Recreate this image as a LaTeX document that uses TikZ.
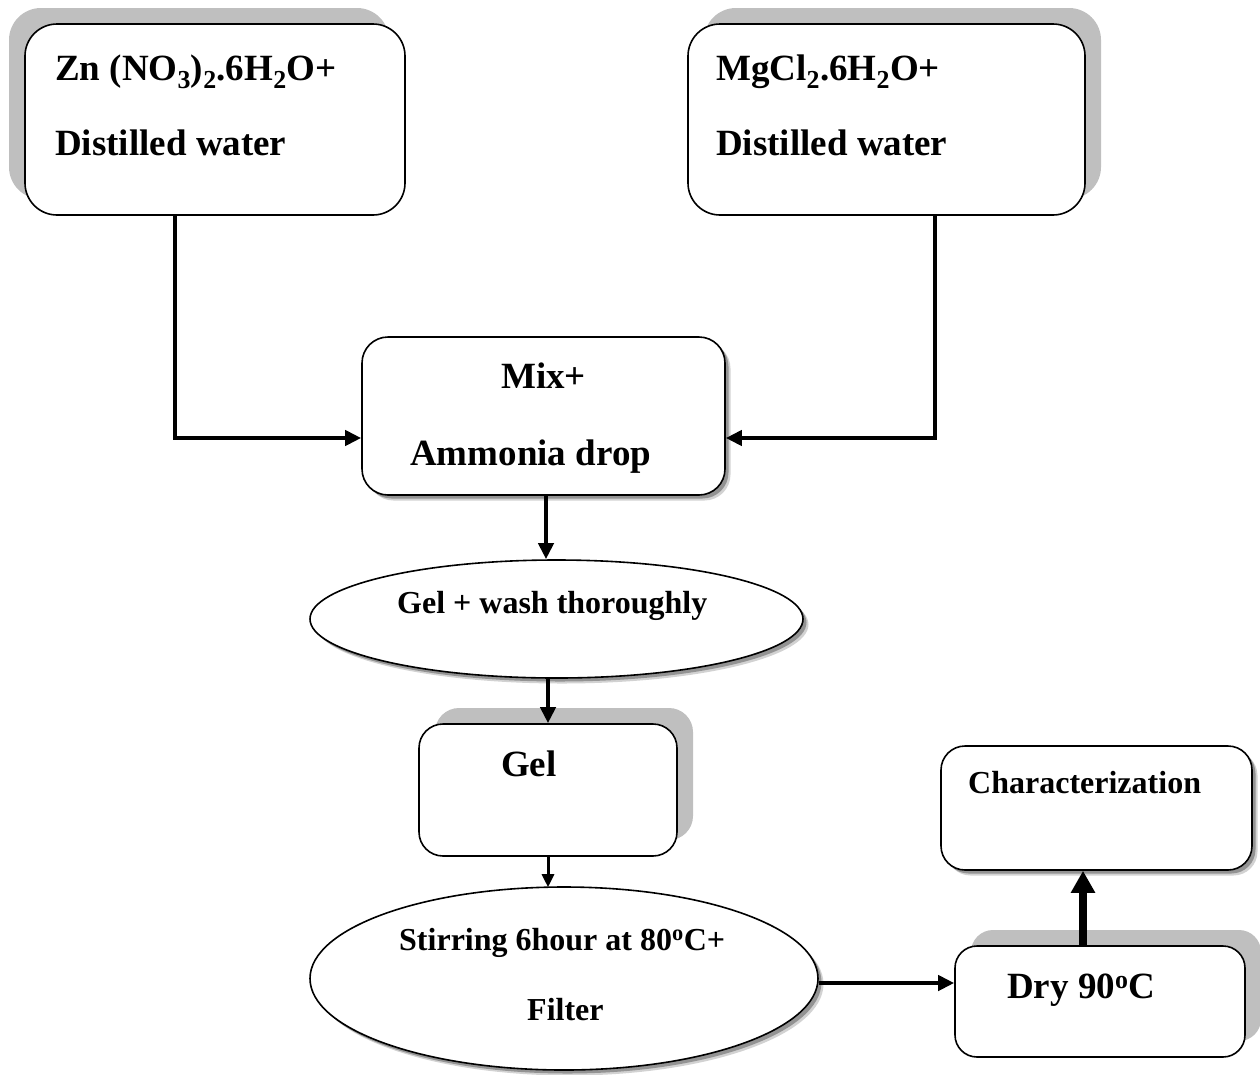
\documentclass[tikz,border=0pt]{standalone}
\usepackage{fontspec}
\setmainfont{Liberation Serif}
\usetikzlibrary{shapes.geometric,shadows,arrows.meta}
\begin{document}
\begin{tikzpicture}[x=1pt,y=-1pt,
  box/.style={draw=black, line width=1.6pt, fill=white, rectangle, inner sep=0pt},
  oval/.style={draw=black, line width=1.6pt, fill=white, ellipse, inner sep=0pt},
  shadowUL/.style={general shadow={fill=gray!50, shadow xshift=-16pt, shadow yshift=16pt}},
  shadowUR/.style={general shadow={fill=gray!50, shadow xshift=16pt, shadow yshift=16pt}},
  softshadow/.style={general shadow={fill=gray!35, shadow xshift=5.5pt, shadow yshift=-5.5pt},
                     general shadow={fill=gray!85, shadow xshift=3.5pt, shadow yshift=-3.5pt}},
  big/.style={font=\fontsize{37}{44}\selectfont\bfseries, inner sep=0pt, anchor=base west},
  small/.style={font=\fontsize{32}{38}\selectfont\bfseries, inner sep=0pt, anchor=base west},
  conn/.style={line width=4pt, -{Triangle[length=16pt,width=15pt]}},
  thinconn/.style={line width=3pt, -{Triangle[length=13pt,width=12pt]}},
  boldconn/.style={line width=7.5pt, -{Triangle[length=22pt,width=23pt]}}
]
\useasboundingbox (0,0) rectangle (1260,1074);

% process boxes
\node[box, shadowUL, rounded corners=32pt, minimum width=380pt, minimum height=191pt] (zn) at (215,119.5) {};
\node[box, shadowUR, rounded corners=32pt, minimum width=397pt, minimum height=191pt] (mg) at (886.5,119.5) {};
\node[box, softshadow, rounded corners=26pt, minimum width=363pt, minimum height=158pt] (mix) at (543.5,416) {};
\node[oval, softshadow, minimum width=493pt, minimum height=118pt] (wash) at (556.5,619) {};
\node[box, shadowUR, rounded corners=24pt, minimum width=258pt, minimum height=132pt] (gel) at (548,790) {};
\node[oval, softshadow, minimum width=508pt, minimum height=183pt] (stir) at (564,978.5) {};
\node[box, shadowUR, rounded corners=22pt, minimum width=290pt, minimum height=111pt] (dry) at (1100,1001.5) {};
\node[box, softshadow, rounded corners=24pt, minimum width=311pt, minimum height=124pt] (char) at (1096.5,808) {};

% labels
\node[big] (zn1) at (55,80) {Zn (NO\textsubscript{3})\textsubscript{2}.6H\textsubscript{2}O+};
\node[big] (zn2) at (55,155) {Distilled water};
\node[big] (mg1) at (716,80) {MgCl\textsubscript{2}.6H\textsubscript{2}O+};
\node[big] (mg2) at (716,155) {Distilled water};
\node[big] (mix1) at (501,388) {Mix+};
\node[big] (mix2) at (410,465) {Ammonia drop};
\node[small] (wash1) at (397,613) {Gel + wash thoroughly};
\node[big] (gel1) at (501,776) {Gel};
\node[small] (char1) at (968,793) {Characterization};
\node[small] (stir1) at (399,950) {Stirring 6hour at 80\textsuperscript{o}C+};
\node[small] (stir2) at (527,1020) {Filter};
\node[big] (dry1) at (1007,998) {Dry 90\textsuperscript{o}C};

% connectors
\draw[conn] ([xshift=-40pt]zn.south) |- ([yshift=-22pt]mix.west);
\draw[conn] ([xshift=48.5pt]mg.south) |- ([yshift=-22pt]mix.east);
\draw[conn] ([xshift=2.5pt]mix.south) -- ([xshift=2.5pt]mix.south |- wash.north);
\draw[conn] (wash.south -| gel.north) -- (gel.north);
\draw[thinconn] (gel.south) -- ([yshift=-1pt]gel.south |- stir.north);
\draw[conn] ([yshift=-4.5pt]stir.east) -- ([yshift=-4.5pt]stir.east -| dry.west);
\draw[boldconn] ([xshift=-17pt]dry.north) -- ([xshift=-17pt]dry.north |- char.south);
\end{tikzpicture}
\end{document}
